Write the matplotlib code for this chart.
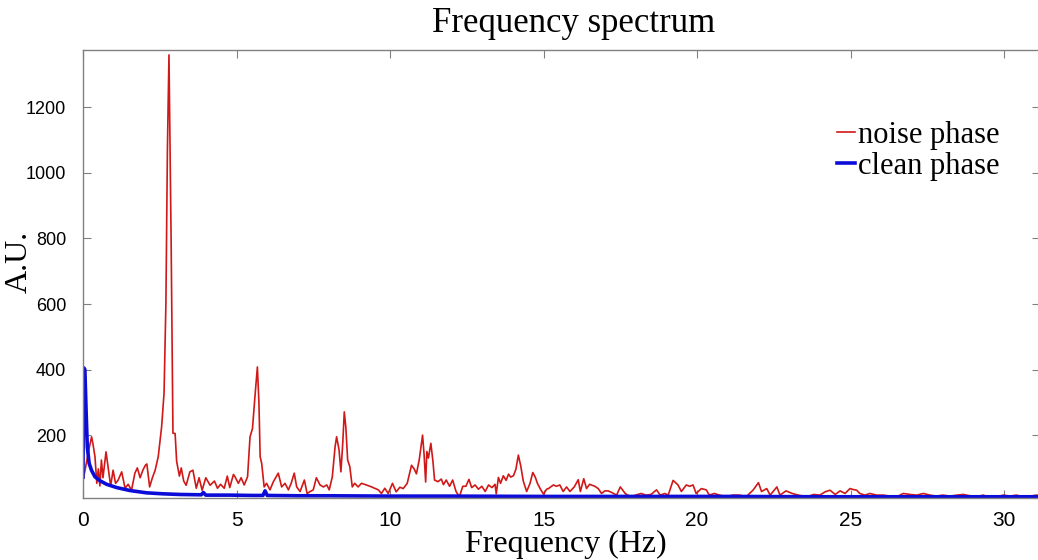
import matplotlib.pyplot as plt

# noise phase spectrum (Hz, A.U.)
red_freq = [0.0, 0.1, 0.2, 0.28, 0.33, 0.39, 0.45, 0.5, 0.55, 0.6, 0.65, 0.75, 0.83, 0.9, 0.98,
            1.06, 1.14, 1.26, 1.37, 1.47, 1.58, 1.69, 1.77, 1.86, 1.95, 2.03, 2.08, 2.17, 2.26,
            2.35, 2.45, 2.56, 2.64, 2.70, 2.75, 2.80, 2.84, 2.87, 2.90, 2.93, 3.0, 3.05, 3.14,
            3.2, 3.28, 3.36, 3.48, 3.58, 3.69, 3.78, 3.88, 4.0, 4.14, 4.28, 4.38, 4.48, 4.6,
            4.7, 4.78, 4.9, 4.95, 5.06, 5.15, 5.25, 5.36, 5.44, 5.52, 5.6, 5.68, 5.73, 5.77,
            5.82, 5.9, 5.98, 6.09, 6.2, 6.36, 6.47, 6.58, 6.69, 6.78, 6.88, 6.96, 7.07, 7.21,
            7.3, 7.4, 7.5, 7.6, 7.72, 7.83, 7.94, 8.02, 8.12, 8.21, 8.26, 8.34, 8.40, 8.46,
            8.51, 8.56, 8.62, 8.69, 8.77, 8.85, 8.96, 9.07, 9.23, 9.4, 9.5, 9.62, 9.72, 9.83,
            9.94, 10.08, 10.2, 10.32, 10.43, 10.56, 10.7, 10.78, 10.86, 10.95, 11.06, 11.11,
            11.16, 11.2, 11.25, 11.33, 11.4, 11.45, 11.56, 11.67, 11.74, 11.83, 11.94, 12.04,
            12.15, 12.26, 12.37, 12.47, 12.57, 12.66, 12.77, 12.88, 12.99, 13.1, 13.21, 13.32,
            13.42, 13.46, 13.53, 13.6, 13.69, 13.78, 13.86, 13.93, 14.02, 14.1, 14.18, 14.26,
            14.34, 14.45, 14.56, 14.65, 14.73, 14.8, 14.9, 15.0, 15.1, 15.16, 15.32, 15.42,
            15.53, 15.64, 15.75, 15.86, 16.0, 16.13, 16.2, 16.31, 16.4, 16.5, 16.67, 16.78,
            16.89, 17.0, 17.1, 17.22, 17.38, 17.5, 17.66, 17.82, 18.0, 18.18, 18.34, 18.5,
            18.68, 18.8, 18.95, 19.06, 19.22, 19.38, 19.49, 19.65, 19.76, 19.87, 19.97, 20.14,
            20.3, 20.4, 20.56, 20.73, 20.95, 21.16, 21.38, 21.6, 21.83, 22.0, 22.1, 22.27,
            22.38, 22.6, 22.7, 22.9, 23.1, 23.3, 23.57, 23.8, 24.0, 24.17, 24.33, 24.5, 24.66,
            24.82, 24.98, 25.09, 25.2, 25.3, 25.47, 25.63, 25.85, 26.07, 26.29, 26.5, 26.72,
            26.94, 27.16, 27.37, 27.59, 27.8, 28.0, 28.24, 28.46, 28.67, 28.89, 29.1, 29.32,
            29.54, 29.76, 29.97, 30.2, 30.4, 30.62, 30.84, 31.06, 31.25]
red_amp = [60, 110, 160, 195, 170, 134, 53, 97, 45, 124, 70, 149, 93, 45, 93,
           53, 62, 88, 38, 50, 32, 84, 100, 70, 93, 108, 112, 42, 70,
           93, 134, 225, 328, 600, 1076, 1360, 1040, 795, 490, 206, 205, 120, 75,
           100, 60, 47, 88, 93, 38, 70, 32, 70, 47, 60, 38, 50, 38,
           75, 40, 80, 73, 53, 70, 48, 73, 195, 220, 317, 408, 300, 134,
           114, 42, 53, 33, 58, 84, 42, 53, 33, 53, 84, 42, 28, 63,
           22, 28, 33, 70, 48, 42, 48, 33, 73, 164, 195, 155, 88, 175,
           271, 225, 124, 104, 42, 53, 42, 53, 48, 42, 38, 33, 22, 38,
           22, 53, 27, 41, 37, 53, 108, 98, 82, 124, 200, 140,
           57, 150, 130, 175, 118, 63, 58, 66, 49, 63, 44, 63,
           28, 12, 44, 44, 65, 40, 48, 35, 44, 28, 48, 40,
           50, 21, 71, 53, 76, 62, 81, 72, 76, 96, 139, 105,
           60, 28, 53, 86, 72, 53, 35, 20, 35, 37, 48, 44,
           48, 28, 42, 28, 42, 64, 28, 67, 37, 50, 44, 37,
           22, 30, 30, 25, 17, 42, 22, 12, 17, 22, 17, 19,
           33, 17, 22, 17, 62, 48, 28, 48, 44, 48, 22, 37,
           33, 17, 22, 17, 12, 17, 17, 12, 33, 55, 28, 37,
           17, 42, 17, 30, 22, 17, 12, 19, 17, 27, 32, 19, 30,
           22, 37, 34, 32, 22, 17, 22, 17, 17, 14, 12, 22,
           19, 17, 22, 17, 14, 17, 14, 17, 19, 15, 12, 17,
           10, 12, 17, 14, 17, 12, 14, 17, 14]

# clean phase spectrum
blue_freq = [0, 0.01, 0.03, 0.06, 0.08, 0.1, 0.14, 0.2, 0.28, 0.39, 0.55, 0.77, 1.1, 1.53,
             2.07, 2.6, 3.16, 3.85, 3.92, 4.0, 4.79, 5.5, 5.86, 5.93, 6.0, 7, 8, 10, 12, 15,
             18, 21, 24, 27, 30, 31.25]
blue_amp = [72, 225, 405, 400, 340, 276, 164, 114, 92, 73, 61, 50, 40, 31,
            24, 21, 19, 18, 25, 17, 17, 16, 16, 30, 16, 15, 15, 14, 14, 13,
            13, 13, 12, 12, 12, 12]

x_ticks = [0, 5, 10, 15, 20, 25, 30]
y_ticks = [200, 400, 600, 800, 1000, 1200]

serif = 'Liberation Serif'

fig = plt.figure(figsize=(10.38, 5.6), dpi=100)
ax = fig.add_axes([83 / 1038, 0.110, 957 / 1038, 0.8007])

ax.plot(red_freq, red_amp, color='#d01818', lw=1.2, label='noise phase')
ax.plot(blue_freq, blue_amp, color='#0c0cd8', lw=2.6, label='clean phase')

ax.set_xlim(0, 31.17)
ax.set_ylim(7, 1375)
ax.set_xticks(x_ticks)
ax.set_yticks(y_ticks)

for s in ax.spines.values():
    s.set_color('#808080')
    s.set_linewidth(1.0)
ax.tick_params(direction='in', length=6, width=0.8, color='#808080',
               top=True, right=True)
ax.tick_params(axis='y', labelsize=13, pad=12)
ax.tick_params(axis='x', labelsize=15, pad=9)
for lab in ax.get_yticklabels() + ax.get_xticklabels():
    lab.set_family('Liberation Sans')

fig.text(574 / 1038, 1 - 24 / 560, 'Frequency spectrum', family=serif,
         fontsize=25, ha='center', va='center')
fig.text(566 / 1038, 1 - 544 / 560, 'Frequency (Hz)', family=serif,
         fontsize=23, ha='center', va='center')
fig.text(19 / 1038, 1 - 262 / 560, 'A.U.', family=serif, fontsize=23,
         rotation=90, ha='center', va='center')

ax.legend(loc='upper right', bbox_to_anchor=(1000 / 1038, 1 - 121 / 560),
          bbox_transform=fig.transFigure, frameon=False,
          prop={'family': serif, 'size': 22}, handlelength=0.62,
          handletextpad=0.1, labelspacing=0.05, borderpad=0, borderaxespad=0)

fig.savefig('out.png', dpi=100)
